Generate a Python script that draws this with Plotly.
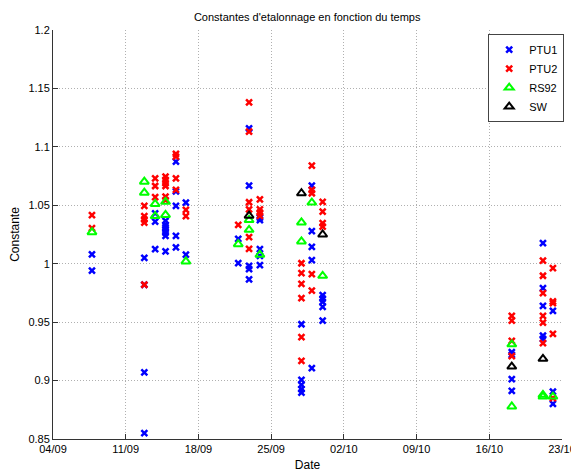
import plotly.graph_objects as go

# ---- data ----
ptu1_dates = (["2008-09-07 18:00"] * 2 + ["2008-09-12 19:00"] * 4 + ["2008-09-13 20:00"] * 3 +
              ["2008-09-14 20:00"] * 7 + ["2008-09-15 20:00"] * 5 + ["2008-09-16 19:00"] * 2 +
              ["2008-09-21 20:00"] * 2 + ["2008-09-22 21:00"] * 5 + ["2008-09-23 22:00"] * 5 +
              ["2008-09-27 22:00"] * 5 + ["2008-09-28 22:00"] * 5 + ["2008-09-29 23:00"] * 5 +
              ["2008-10-18 04:00"] * 4 + ["2008-10-21 04:00"] * 5 + ["2008-10-22 03:00"] * 3)
ptu1_values = [1.008, 0.994,
               0.982, 0.907, 0.855, 1.005,
               1.043, 1.036, 1.0125,
               1.0366, 1.0332, 1.0312, 1.029, 1.0267, 1.0238, 1.0106,
               1.0873, 1.0494, 1.0238, 1.0139, 1.062,
               1.0523, 1.0077,
               1.0212, 1.0005,
               1.1159, 1.0668, 0.9981, 0.9953, 0.9866,
               1.0394, 1.0374, 1.0125, 1.0068, 0.9987,
               0.9482, 0.9006, 0.8963, 0.8926, 0.8897,
               1.0668, 1.0279, 1.0145, 1.0031, 0.9106,
               0.9731, 0.9702, 0.9674, 0.9631, 0.9513,
               0.9243, 0.922, 0.9012, 0.8912,
               1.0177, 0.9791, 0.9639, 0.9385, 0.9357,
               0.9596, 0.8906, 0.880]

ptu2_dates = (["2008-09-07 18:00"] * 2 + ["2008-09-12 19:00"] * 5 + ["2008-09-13 20:00"] * 3 +
              ["2008-09-14 20:00"] * 6 + ["2008-09-15 20:00"] * 4 + ["2008-09-16 19:00"] * 2 +
              ["2008-09-21 20:00"] * 1 + ["2008-09-22 21:00"] * 6 + ["2008-09-23 22:00"] * 4 +
              ["2008-09-27 22:00"] * 6 + ["2008-09-28 22:00"] * 5 + ["2008-09-29 23:00"] * 4 +
              ["2008-10-18 04:00"] * 4 + ["2008-10-21 04:00"] * 6 + ["2008-10-22 03:00"] * 5)
ptu2_values = [1.0415, 1.0304,
               1.0494, 1.0408, 1.038, 1.0351, 0.982,
               1.0731, 1.0665, 1.0569,
               1.0746, 1.0718, 1.069, 1.0665, 1.0574, 1.0545,
               1.0939, 1.0916, 1.0731, 1.0631,
               1.0461, 1.0408,
               1.0332,
               1.138, 1.113, 1.0526, 1.0466, 1.0228, 1.0128,
               1.0551, 1.0466, 1.0437, 1.041,
               1.0004, 0.9919, 0.9828, 0.9705, 0.9371, 0.9169,
               1.084, 1.0631, 1.0603, 0.991, 0.977,
               1.0529, 1.0446, 1.0347, 1.0318,
               0.9553, 0.9513, 0.934, 0.921,
               1.0026, 0.9897, 0.9748, 0.9553, 0.9496, 0.932,
               0.9963, 0.9677, 0.9663, 0.94, 0.885]

rs92_dates = (["2008-09-07 18:00"] + ["2008-09-12 19:00"] * 2 + ["2008-09-13 20:00"] * 2 +
              ["2008-09-14 20:00"] * 2 + ["2008-09-16 19:00"] + ["2008-09-21 20:00"] +
              ["2008-09-22 21:00"] * 2 + ["2008-09-23 22:00"] + ["2008-09-27 22:00"] * 2 +
              ["2008-09-28 22:00"] + ["2008-09-29 23:00"] + ["2008-10-18 04:00"] * 2 +
              ["2008-10-21 04:00"] * 2 + ["2008-10-22 03:00"])
rs92_values = [1.027, 1.0702, 1.0608, 1.0512, 1.0408, 1.0417, 1.053, 1.002, 1.0167,
               1.0374, 1.029, 1.0077, 1.0353, 1.0191, 1.0523, 0.9896, 0.931, 0.8778,
               0.8878, 0.8863, 0.8863]

sw_dates = ["2008-09-22 21:00", "2008-09-27 22:00", "2008-09-29 23:00",
            "2008-10-18 04:00", "2008-10-21 04:00"]
sw_values = [1.0411, 1.0603, 1.025, 0.912, 0.9186]

y_ticks = [0.85, 0.9, 0.95, 1.0, 1.05, 1.1, 1.15, 1.2]
y_tick_labels = ["0.85", "0.9", "0.95", "1", "1.05", "1.1", "1.15", "1.2"]

FONT = "Liberation Sans, Arial, Helvetica, sans-serif"

fig = go.Figure()
fig.add_trace(go.Scatter(x=ptu1_dates, y=ptu1_values, mode="markers", name="PTU1",
                         marker=dict(symbol="x-thin-open", size=6, color="#0000ff",
                                     line=dict(color="#0000ff", width=2.5))))
fig.add_trace(go.Scatter(x=ptu2_dates, y=ptu2_values, mode="markers", name="PTU2",
                         marker=dict(symbol="x-thin-open", size=6, color="#ff0000",
                                     line=dict(color="#ff0000", width=2.5))))
fig.add_trace(go.Scatter(x=rs92_dates, y=rs92_values, mode="markers", name="RS92",
                         marker=dict(symbol="triangle-up-open", size=8, color="#00ff00",
                                     line=dict(color="#00ff00", width=2))))
fig.add_trace(go.Scatter(x=sw_dates, y=sw_values, mode="markers", name="SW",
                         marker=dict(symbol="triangle-up-open", size=8, color="#000000",
                                     line=dict(color="#000000", width=2))))

# page body adds an 8px offset, so the figure is 571x464 to fill the 579x472 window
fig.update_layout(
    width=571, height=464,
    margin=dict(l=45, r=17, t=22, b=33),
    paper_bgcolor="white", plot_bgcolor="white",
    font=dict(family=FONT, size=11, color="black"),
    title=dict(text="Constantes d'etalonnage en fonction du temps", x=0.524, xanchor="center",
               y=0.981, yanchor="middle", font=dict(size=11)),
    showlegend=True,
    legend=dict(x=0.855, y=0.99, xanchor="left", yanchor="top", bgcolor="white",
                bordercolor="#444", borderwidth=1, font=dict(size=11),
                itemwidth=30, tracegroupgap=0),
    xaxis=dict(type="date", range=["2008-09-04", "2008-10-23"], automargin=False,
               tick0="2008-09-04", dtick=7 * 86400000, tickformat="%d/%m",
               showgrid=True, gridcolor="#b0b0b0", griddash="1px,2px", gridwidth=1,
               showline=True, linecolor="#333", linewidth=1,
               ticks="inside", ticklen=5, tickcolor="#333",
               zeroline=False,
               title=dict(text="Date", standoff=6, font=dict(size=12))),
    yaxis=dict(range=[0.85, 1.2], tickvals=y_ticks, ticktext=y_tick_labels, automargin=False,
               showgrid=True, gridcolor="#b0b0b0", griddash="1px,2px", gridwidth=1,
               showline=True, linecolor="#333", linewidth=1,
               ticks="inside", ticklen=5, tickcolor="#333",
               zeroline=False,
               title=dict(text="Constante", standoff=6, font=dict(size=12))),
)

fig.write_html("out.html")
